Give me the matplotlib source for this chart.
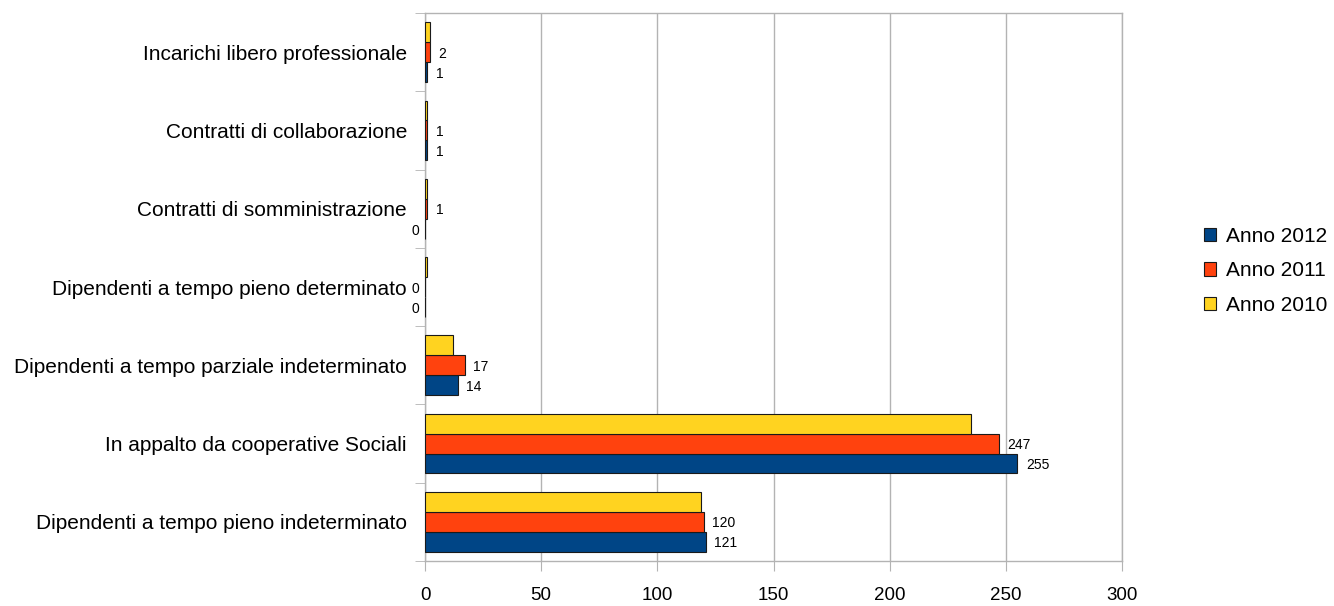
import matplotlib
import matplotlib.pyplot as plt
import numpy as np
from matplotlib.patches import Patch

matplotlib.use("Agg")

plt.rcParams["font.family"] = ["Liberation Sans", "DejaVu Sans"]

categories = [
    "Dipendenti a tempo pieno indeterminato",
    "In appalto da cooperative Sociali",
    "Dipendenti a tempo parziale indeterminato",
    "Dipendenti a tempo pieno determinato",
    "Contratti di somministrazione",
    "Contratti di collaborazione",
    "Incarichi libero professionale",
]
anno_2012 = [121, 255, 14, 0, 0, 1, 1]
anno_2011 = [120, 247, 17, 0, 1, 1, 2]
anno_2010 = [119, 235, 12, 1, 1, 1, 2]

colors = {"2012": "#004586", "2011": "#ff420e", "2010": "#ffd320"}

fig = plt.figure(figsize=(13.34, 6.06), dpi=100)
ax = fig.add_axes([0.3186, 0.0743, 0.5225, 0.9042])

y = np.arange(len(categories))
h = 0.255

series = [
    ("Anno 2012", anno_2012, colors["2012"], -h, True),
    ("Anno 2011", anno_2011, colors["2011"], 0.0, True),
    ("Anno 2010", anno_2010, colors["2010"], h, False),
]

for name, vals, col, off, labelled in series:
    ax.barh(y + off, vals, height=h, color=col, edgecolor="#1a1a1a",
            linewidth=0.8, zorder=3)
    if not labelled:
        continue
    # zero values get their label on the left of the axis
    for yi, v in zip(y + off, vals):
        if v == 0:
            ax.annotate(str(v), (0, yi), xytext=(-4, -1.5), textcoords="offset points",
                        ha="right", va="center", fontsize=10)
        else:
            ax.annotate(str(v), (v, yi), xytext=(6, -1), textcoords="offset points",
                        ha="left", va="center", fontsize=10)

ax.set_xlim(0, 300)
ax.set_ylim(-0.5, len(categories) - 0.5)
ax.set_xticks(np.arange(0, 301, 50))
ax.tick_params(axis="x", labelsize=13.5, length=7, color="#b3b3b3", pad=12)

ax.set_yticks(y)
ax.set_yticklabels(categories)
ax.set_yticks(np.arange(-0.5, len(categories), 1.0), minor=True)
ax.tick_params(axis="y", which="major", length=0, labelsize=15, pad=13)
ax.tick_params(axis="y", which="minor", length=7, color="#b3b3b3")

ax.grid(axis="x", color="#b3b3b3", linewidth=1, zorder=0)
for s in ax.spines.values():
    s.set_color("#b3b3b3")
    s.set_linewidth(1)

handles = [Patch(facecolor=c, edgecolor="#1a1a1a", linewidth=0.8)
           for c in (colors["2012"], colors["2011"], colors["2010"])]
fig.legend(handles, ["Anno 2012", "Anno 2011", "Anno 2010"],
           loc="center left", bbox_to_anchor=(0.8963, 0.553), frameon=False,
           fontsize=15, handlelength=0.6, handleheight=0.6,
           handletextpad=0.45, labelspacing=0.74, borderaxespad=0)

fig.savefig("out.png", dpi=100)
